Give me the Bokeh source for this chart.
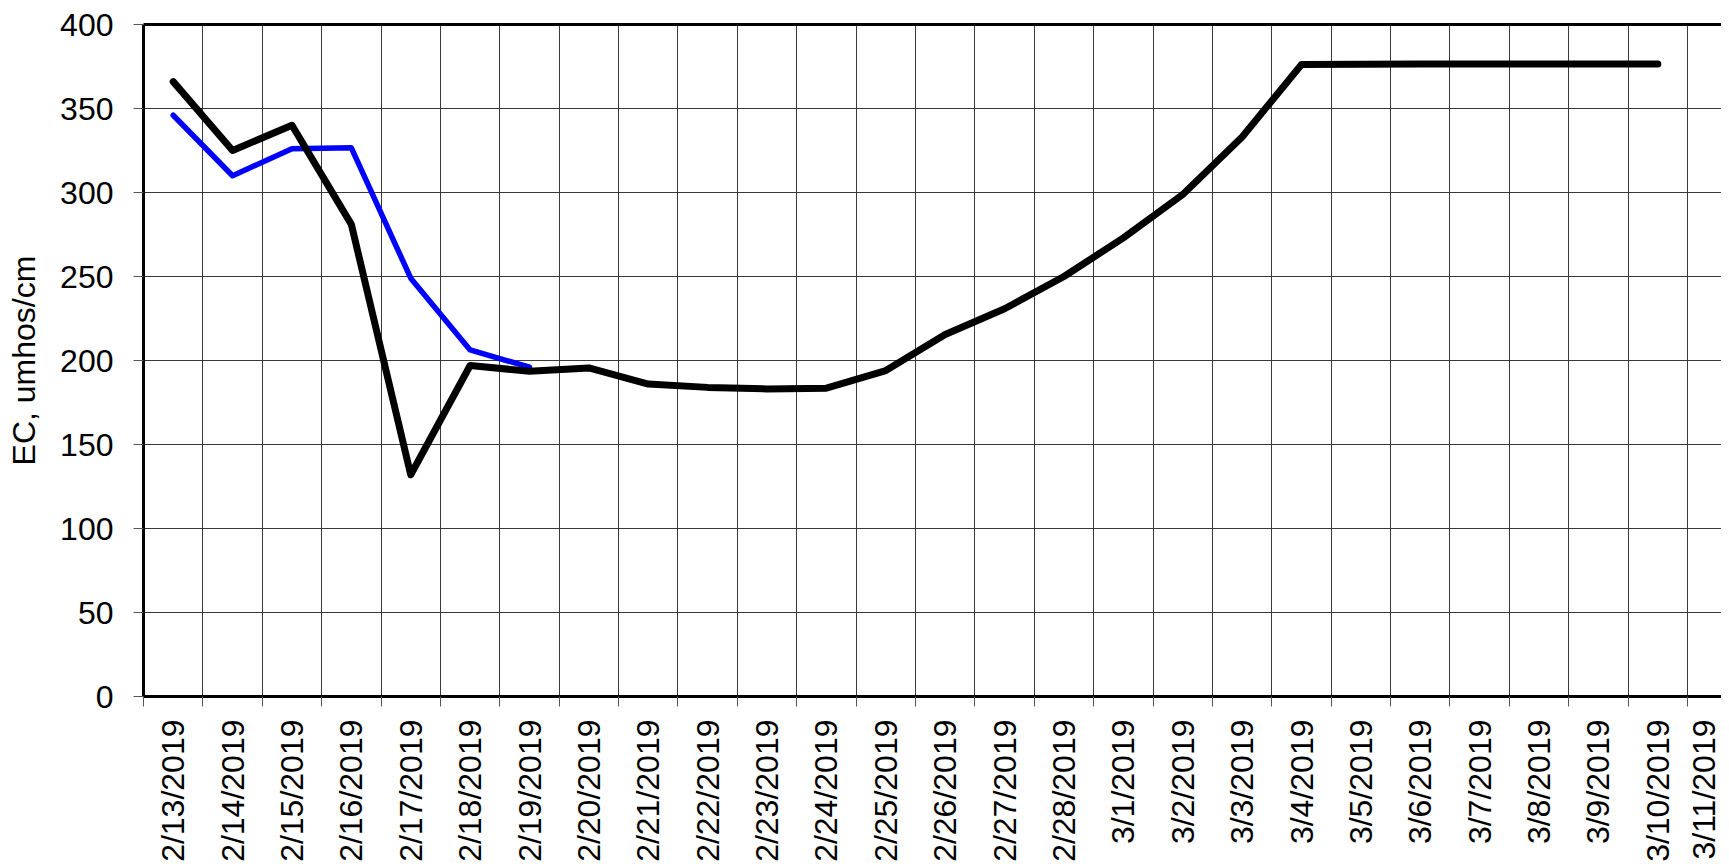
from bokeh.plotting import figure
from bokeh.models import Range1d, FixedTicker, LinearAxis
from bokeh.embed import file_html
from bokeh.resources import INLINE
from math import pi

dates = ["2/13/2019", "2/14/2019", "2/15/2019", "2/16/2019", "2/17/2019", "2/18/2019",
         "2/19/2019", "2/20/2019", "2/21/2019", "2/22/2019", "2/23/2019", "2/24/2019",
         "2/25/2019", "2/26/2019", "2/27/2019", "2/28/2019", "3/1/2019", "3/2/2019",
         "3/3/2019", "3/4/2019", "3/5/2019", "3/6/2019", "3/7/2019", "3/8/2019",
         "3/9/2019", "3/10/2019", "3/11/2019"]

black_ec = [366, 325, 340, 281, 132, 197, 193.6, 195.6, 186, 184, 183.1, 183.5,
            194, 215.5, 230.8, 250, 273, 298.8, 333, 376.2, 376.4, 376.5, 376.5,
            376.5, 376.5, 376.5]
blue_ec = [346, 310, 326, 326.6, 249, 206.3, 196]

y_ticks = [0, 50, 100, 150, 200, 250, 300, 350, 400]

FONT = "Liberation Sans"

idx = list(range(len(dates)))
boundaries = [i - 0.5 for i in range(len(dates) + 1)]

p = figure(frame_width=1578, frame_height=672, output_backend="svg", toolbar_location=None,
           x_range=Range1d(-0.5, 26.072), y_range=Range1d(0, 400),
           min_border_left=143, min_border_top=24, min_border_right=0, min_border_bottom=0)
p.outline_line_color = None
p.background_fill_color = "white"
p.border_fill_color = "white"

# grids
p.xgrid.ticker = FixedTicker(ticks=boundaries)
p.xgrid.grid_line_color = "#3a3a3a"
p.xgrid.grid_line_width = 1
p.ygrid.ticker = FixedTicker(ticks=y_ticks)
p.ygrid.grid_line_color = "#3a3a3a"
p.ygrid.grid_line_width = 1

# x axis
xa = p.xaxis[0]
xa.ticker = FixedTicker(ticks=idx, minor_ticks=boundaries)
xa.major_label_overrides = {i: d for i, d in zip(idx, dates)}
xa.major_label_orientation = pi / 2
xa.major_tick_out = 0
xa.major_tick_in = 0
xa.minor_tick_out = 10
xa.minor_tick_in = 0
xa.minor_tick_line_color = "#555555"
xa.axis_line_width = 3
xa.axis_line_color = "black"
xa.major_label_standoff = 13
xa.major_label_text_font = FONT
xa.major_label_text_font_size = "32px"
xa.major_label_text_color = "black"

# y axis
ya = p.yaxis[0]
ya.ticker = FixedTicker(ticks=y_ticks)
ya.major_tick_out = 10
ya.major_tick_in = 0
ya.major_tick_line_color = "#555555"
ya.minor_tick_out = 0
ya.minor_tick_in = 0
ya.axis_line_width = 3
ya.axis_line_color = "black"
ya.major_label_standoff = 20
ya.major_label_text_font = FONT
ya.major_label_text_font_size = "32px"
ya.major_label_text_color = "black"
ya.axis_label = "EC, umhos/cm"
ya.axis_label_text_font = FONT
ya.axis_label_text_font_size = "32px"
ya.axis_label_text_font_style = "normal"
ya.axis_label_text_color = "black"
ya.axis_label_standoff = 15

# top border line
top = LinearAxis(ticker=FixedTicker(ticks=[]), axis_line_width=3, axis_line_color="black",
                 major_tick_out=0, major_tick_in=0, minor_tick_out=0, minor_tick_in=0,
                 major_label_text_font_size="0px", major_label_standoff=0)
p.add_layout(top, "above")

p.line(idx[:len(blue_ec)], blue_ec, line_color="#0000FF", line_width=5.5,
       line_join="round", line_cap="round")
p.line(idx[:len(black_ec)], black_ec, line_color="black", line_width=7,
       line_join="round", line_cap="round")

open("out.html", "w").write(file_html(p, INLINE))
